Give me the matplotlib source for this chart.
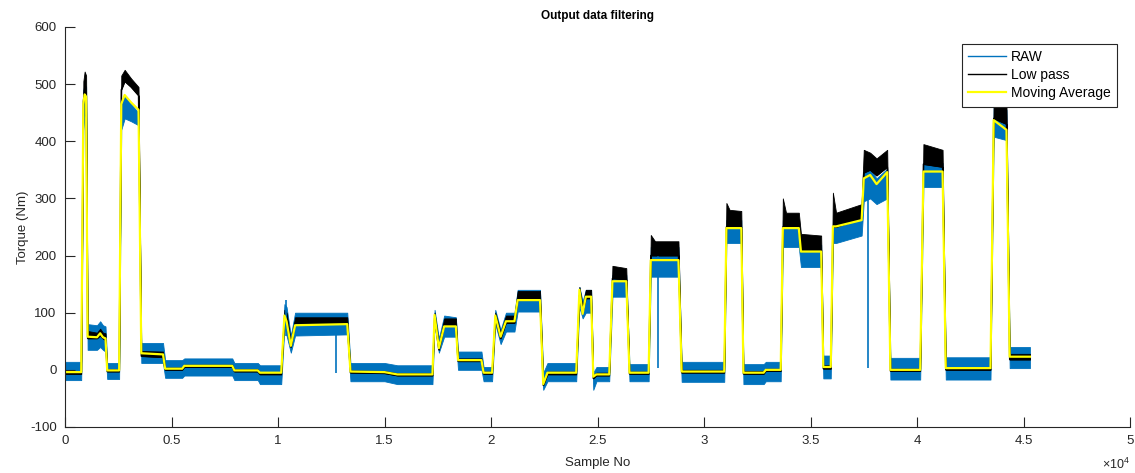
import numpy as np
import matplotlib.pyplot as plt

# knot positions (sample no) and levels
sample_knots = [
    0, 760, 860, 920, 990, 1060, 1500, 1650, 1780, 1900,
    1980, 2540, 2640, 2800, 3100, 3450, 3580, 4600, 4700, 5500,
    5600, 7850, 7950, 9050, 9150, 10150, 10300, 10400, 10600, 10800,
    13250, 13400, 15000, 15600, 17250, 17350, 17550, 17800, 18350, 18450,
    19550, 19650, 20050, 20200, 20450, 20700, 21100, 21250, 22300, 22450,
    22650, 24000, 24150, 24300, 24450, 24700, 24800, 24950, 25550, 25700,
    26350, 26500, 27400, 27500, 27700, 28800, 28950, 30950, 31050, 31200,
    31750, 31850, 32800, 32900, 33600, 33700, 33850, 34450, 34550, 35500,
    35600, 35950, 36050, 36200, 37400, 37500, 37800, 38100, 38600, 38750,
    40150, 40300, 41200, 41350, 43450, 43600, 44200, 44350, 45300,
]
raw_low = [
    -18, -18, 420, 450, 440, 35, 35, 40, 35, 32,
    -16, -16, 420, 440, 435, 428, 12, 12, -14, -14,
    -10, -10, -18, -18, -25, -25, 75, 60, 30, 60,
    62, -20, -20, -25, -25, 80, 30, 58, 58, 0,
    0, -20, -20, 80, 45, 67, 67, 102, 102, -35,
    -20, -20, 110, 90, 100, 100, -35, -20, -20, 128,
    128, -20, -20, 163, 163, 163, -21, -21, 222, 222,
    222, -25, -25, -20, -20, 215, 215, 215, 180, 180,
    -15, -15, 222, 222, 235, 295, 300, 290, 300, -17,
    -17, 320, 320, -17, -17, 408, 402, 3, 3,
]
raw_high = [
    14, 14, 490, 500, 495, 80, 78, 85, 78, 76,
    12, 12, 470, 480, 465, 450, 47, 47, 17, 17,
    20, 20, 12, 12, 8, 8, 115, 110, 60, 100,
    100, 12, 12, 8, 8, 105, 55, 95, 92, 32,
    32, 5, 5, 105, 70, 100, 100, 140, 140, -5,
    12, 12, 145, 120, 140, 140, -5, 5, 5, 166,
    166, 10, 10, 215, 215, 215, 14, 14, 262, 262,
    262, 10, 10, 14, 14, 262, 262, 262, 219, 219,
    25, 25, 257, 257, 268, 345, 350, 335, 352, 21,
    21, 362, 362, 22, 22, 461, 455, 40, 40,
]
lowpass_low = [
    -7, -7, 470, 490, 480, 55, 55, 60, 55, 52,
    -3, -3, 490, 505, 495, 480, 24, 22, 0, 0,
    5, 5, -3, -3, -8, -8, 90, 85, 40, 82,
    82, -5, -6, -10, -10, 90, 35, 78, 78, 15,
    15, -7, -7, 90, 55, 82, 82, 122, 122, -27,
    -8, -8, 130, 100, 125, 125, -15, -10, -10, 160,
    158, -7, -7, 200, 200, 200, -5, -5, 250, 250,
    250, -7, -7, -2, -2, 250, 250, 250, 210, 210,
    2, 2, 250, 250, 265, 345, 350, 340, 355, -2,
    -2, 360, 355, 0, 0, 440, 430, 18, 18,
]
lowpass_high = [
    -3, -3, 505, 522, 515, 68, 65, 72, 65, 64,
    1, 1, 515, 525, 510, 495, 33, 32, 4, 4,
    9, 9, 1, 1, -4, -4, 105, 100, 50, 92,
    92, -1, -2, -6, -6, 100, 45, 90, 90, 20,
    20, -3, -3, 100, 65, 95, 95, 138, 138, -20,
    -3, -3, 145, 110, 140, 140, -10, -5, -5, 182,
    178, -3, -3, 236, 225, 225, 0, 0, 292, 280,
    278, -2, -2, 2, 2, 300, 275, 275, 238, 235,
    8, 8, 310, 275, 290, 385, 380, 370, 385, 2,
    2, 395, 385, 5, 5, 475, 465, 28, 28,
]
moving_avg = [
    -4, -4, 465, 482, 478, 58, 57, 64, 57, 55,
    -1, -1, 465, 481, 468, 455, 29, 27, 2, 2,
    7, 7, -1, -1, -5, -5, 95, 85, 42, 78,
    80, -3, -4, -8, -8, 96, 38, 76, 76, 17,
    17, -5, -5, 95, 58, 85, 85, 122, 122, -25,
    -5, -5, 140, 98, 128, 128, -12, -8, -8, 155,
    155, -5, -5, 192, 192, 192, -3, -3, 248, 248,
    248, -5, -5, 0, 0, 248, 248, 248, 207, 207,
    5, 5, 251, 251, 262, 335, 341, 325, 346, 0,
    0, 347, 347, 3, 3, 437, 420, 23, 23,
]

# single-sample spikes in the raw signal
spike_x = [10380, 12720, 27840, 37700]
spike_low = [60, -5, 3, 3]
spike_high = [122, 70, 200, 300]

x_ticks = [0, 5000, 10000, 15000, 20000, 25000, 30000, 35000, 40000, 45000, 50000]
x_tick_labels = ["0", "0.5", "1", "1.5", "2", "2.5", "3", "3.5", "4", "4.5", "5"]
y_ticks = [-100, 0, 100, 200, 300, 400, 500, 600]

plt.rcParams["font.family"] = ["Liberation Sans", "DejaVu Sans"]
plt.rcParams["axes.unicode_minus"] = False
plt.rcParams["mathtext.fontset"] = "custom"
plt.rcParams["mathtext.rm"] = "Liberation Sans"

fig = plt.figure(figsize=(11.35, 4.73), dpi=100)
ax = fig.add_axes([0.0573, 0.0973, 0.9383, 0.8457])

raw_color = "#0072BD"
ax.fill_between(sample_knots, raw_low, raw_high, color=raw_color, lw=0.6,
                edgecolor=raw_color)
ax.vlines(spike_x, spike_low, spike_high, color=raw_color, lw=1.2)
ax.plot([], [], color=raw_color, lw=1, label="RAW")

ax.fill_between(sample_knots, lowpass_low, lowpass_high, color="black", lw=0.6,
                edgecolor="black")
ax.plot(sample_knots, lowpass_low, color="black", lw=1, label="Low pass")

ax.plot(sample_knots, moving_avg, color="#FFFF00", lw=1.6, label="Moving Average")

ax.set_xlim(0, 50000)
ax.set_ylim(-100, 600)
ax.set_xticks(x_ticks)
ax.set_xticklabels(x_tick_labels)
ax.set_yticks(y_ticks)

for side in ("top", "right"):
    ax.spines[side].set_visible(False)
for side in ("left", "bottom"):
    ax.spines[side].set_color("#262626")
    ax.spines[side].set_linewidth(0.8)
ax.tick_params(direction="in", length=7, width=0.8, colors="#262626",
               labelsize=9.5, pad=6)

ax.set_xlabel("Sample No", fontsize=9.5, color="#262626", labelpad=7)
ax.set_ylabel("Torque (Nm)", fontsize=9.5, color="#262626", labelpad=1)
ax.set_title("Output data filtering", fontsize=8.5, fontweight="bold", pad=6)
ax.text(1.0, -0.075, r"$\times$10$^{4}$", transform=ax.transAxes, ha="right",
        va="top", fontsize=9, color="#262626")

leg = ax.legend(loc="upper right", bbox_to_anchor=(0.988, 0.958),
                borderaxespad=0, fancybox=False, framealpha=1,
                edgecolor="#262626", fontsize=10, handlelength=2.7,
                labelspacing=0.3, borderpad=0.45, handletextpad=0.4)
leg.get_frame().set_linewidth(0.8)

fig.savefig("out.png", dpi=100)
